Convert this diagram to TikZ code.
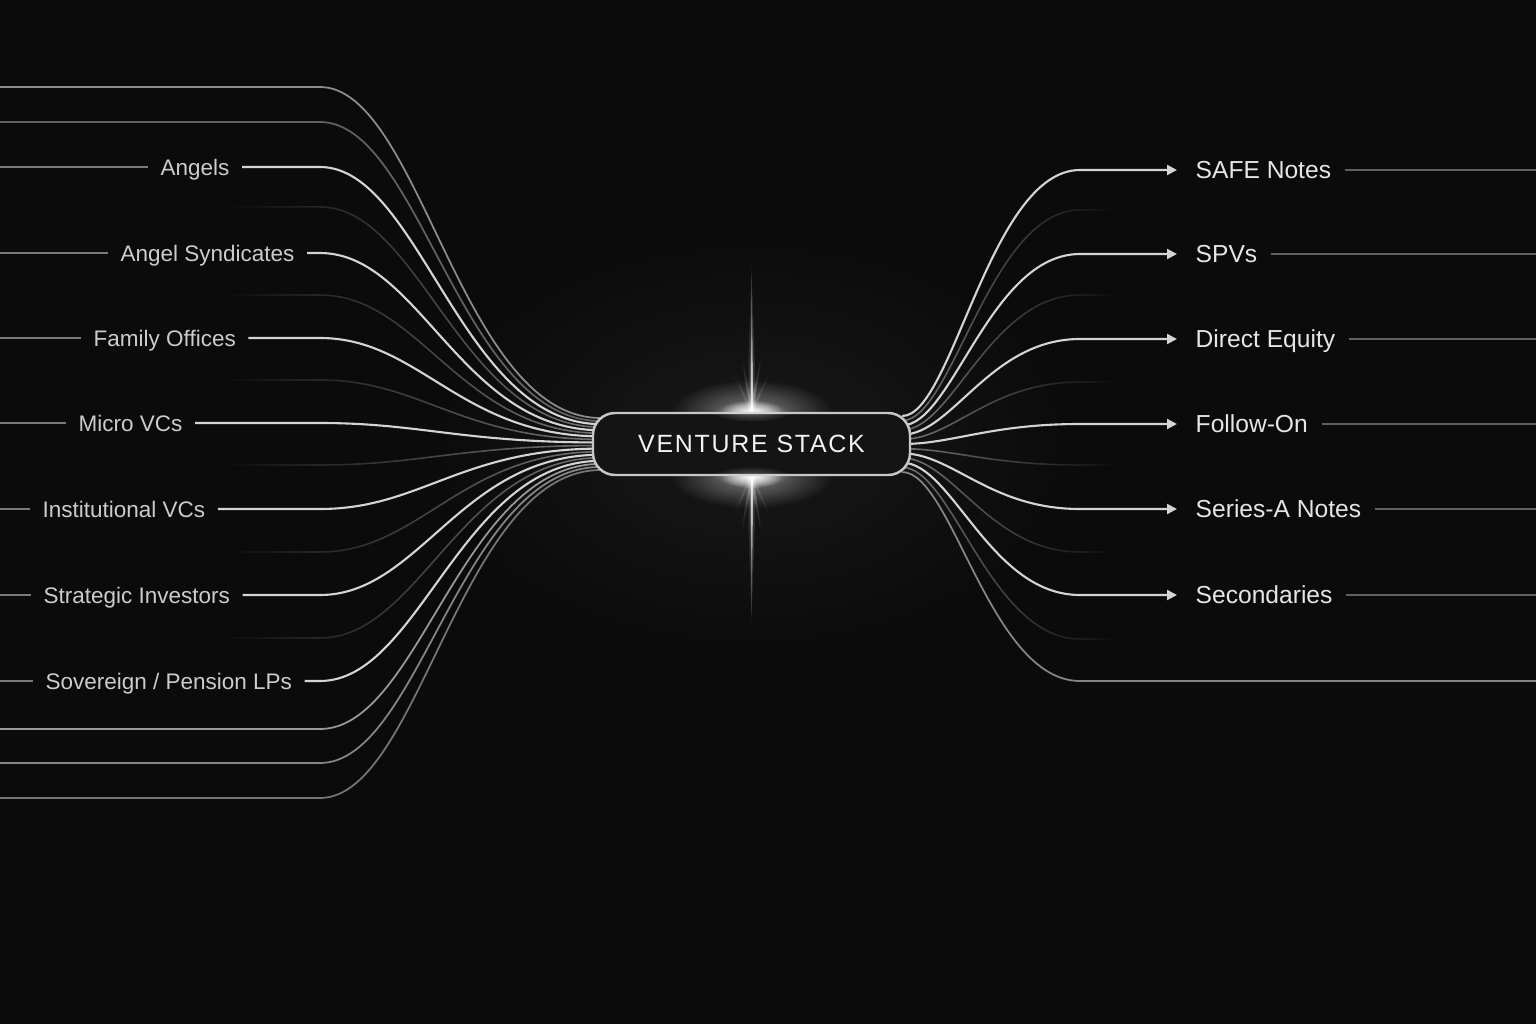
\documentclass[tikz,border=0pt]{standalone}
\usepackage{fontspec}
\setmainfont{Liberation Sans}
\newfontfamily\stackfont[LetterSpace=7]{Liberation Sans}
\usetikzlibrary{arrows.meta,fadings,backgrounds}

\definecolor{bg}{HTML}{0B0B0B}
\definecolor{wire}{HTML}{D4D4D4}

\tikzfading[name=fadein, left color=transparent!100, middle color=transparent!15, right color=transparent!0]
\tikzfading[name=fadeout, left color=transparent!0, middle color=transparent!15, right color=transparent!100]
\tikzfading[name=glow, inner color=transparent!0, outer color=transparent!100]

\tikzset{
  stackbox/.style={draw=white!78!black, line width=0.7pt, fill=white!8!black, rounded corners=0.22cm,
    minimum width=3.17cm, minimum height=0.62cm, inner sep=0pt, text=white!95!black,
    font=\stackfont\fontsize{7.1}{8}\selectfont},
  inlab/.style={anchor=west, inner xsep=0.12cm, inner ysep=0pt, text height=4.6pt, text depth=0pt,
    text=white!80!black, font=\fontsize{6.4}{7}\selectfont},
  outlab/.style={anchor=west, inner xsep=0.13cm, inner ysep=0pt, text height=5pt, text depth=0pt,
    text=white!90!black, font=\fontsize{7}{8}\selectfont},
  feed/.style={wire, line width=0.6pt},
  stub/.style={white!48!black, line width=0.45pt},
  tail/.style={white!38!black, line width=0.45pt},
  ghost/.style={white!45!black, line width=0.45pt},
  payout/.style={wire, line width=0.6pt, -{Triangle[length=0.1cm,width=0.1cm]}, shorten >=0.05cm},
}

\begin{document}
\begin{tikzpicture}
\useasboundingbox (0,0) rectangle (15.36,10.24);
\coordinate (W) at (0,0);
\coordinate (E) at (15.36,0);
\coordinate (bendL) at (3.2,0);
\coordinate (bendR) at (10.8,0);

% hub
\node[stackbox] (stack) at (7.515,5.80) {VENTURE STACK};
\fill[white, opacity=0.3, path fading=glow] (stack.north) ellipse (0.4 and 0.1);
\fill[white, opacity=0.3, path fading=glow] (stack.south) ellipse (0.4 and 0.1);

% sources
\node[inlab] (angels) at (1.48,8.57) {Angels};
\node[inlab] (syndicates) at (1.08,7.71) {Angel Syndicates};
\node[inlab] (family) at (0.81,6.86) {Family Offices};
\node[inlab] (micro) at (0.66,6.01) {Micro VCs};
\node[inlab] (institutional) at (0.30,5.15) {Institutional VCs};
\node[inlab] (strategic) at (0.31,4.29) {Strategic Investors};
\node[inlab] (sovereign) at (0.33,3.43) {Sovereign / Pension LPs};

% instruments
\node[outlab] (safe) at (11.82,8.54) {SAFE Notes};
\node[outlab] (spvs) at (11.82,7.70) {SPVs};
\node[outlab] (direct) at (11.82,6.85) {Direct Equity};
\node[outlab] (followon) at (11.82,6.00) {Follow-On};
\node[outlab] (seriesa) at (11.82,5.15) {Series-A Notes};
\node[outlab] (secondaries) at (11.82,4.29) {Secondaries};

\begin{pgfonlayer}{background}
\fill[bg] (W) rectangle (15.36,10.24);
\fill[white, opacity=0.06, path fading=glow] (stack.center) ellipse (3.4 and 2.2);

\foreach \i in {0,...,17} \path (stack.west) ++(0.09,{0.26-0.0306*\i}) coordinate (in\i);
\foreach \i in {0,...,12} \path (stack.east) ++(-0.09,{0.28-0.0467*\i}) coordinate (out\i);

% faint threads
\foreach \y/\i in {8.17/3, 7.29/5, 6.44/7, 5.59/9, 4.72/11, 3.86/13}{
  \path (W) ++(2.2,\y) coordinate (g\i);
  \draw[ghost, path fading=fadein] (g\i) -- (g\i -| bendL) .. controls +(1,0) and +(-1.4,0) .. (in\i);
}
\foreach \y/\i in {8.14/1, 7.29/3, 6.42/5, 5.59/7, 4.72/9, 3.85/11}{
  \path (bendR) ++(0,\y) coordinate (h\i);
  \draw[ghost, path fading=fadeout] (out\i) .. controls +(0.5,0) and +(-0.9,0) .. (h\i) -- ++(0.35,0);
}

% outer threads
\foreach \y/\i/\c in {9.37/0/55, 9.02/1/38, 2.95/15/60, 2.61/16/52, 2.26/17/46}{
  \path (W) ++(0,\y) coordinate (s\i);
  \draw[white!\c!black, line width=0.5pt] (s\i) -- (s\i -| bendL) .. controls +(1,0) and +(-1.4,0) .. (in\i);
}
\path (bendR) ++(0,3.43) coordinate (h12);
\draw[white!52!black, line width=0.5pt] (out12) .. controls +(0.5,0) and +(-0.9,0) .. (h12) -- (h12 -| E);

% labelled threads
\foreach \n/\i in {angels/2, syndicates/4, family/6, micro/8, institutional/10, strategic/12, sovereign/14}{
  \draw[stub] (\n.west -| W) -- (\n.west);
  \draw[feed] (\n.east) -- (\n.east -| bendL) .. controls +(1,0) and +(-1.4,0) .. (in\i);
}
\foreach \n/\i in {safe/0, spvs/2, direct/4, followon/6, seriesa/8, secondaries/10}{
  \draw[payout] (out\i) .. controls +(0.5,0) and +(-0.9,0) .. (\n.west -| bendR) -- (\n.west);
  \draw[tail] (\n.east) -- (\n.east -| E);
}

% flare
\foreach \p/\s in {north/1, south/-1}{
  \fill[white, opacity=0.45, path fading=glow] (stack.\p) ellipse (0.8 and 0.32);
  \fill[white, path fading=glow] (stack.\p) ellipse (0.32 and 0.12);
  \fill[white, opacity=0.25, path fading=glow] ([xshift=-0.05cm]stack.\p) -- ++(0.05,1.5) -- ++(0.05,-1.5) -- ++(-0.05,-1.5) -- cycle;
  \foreach \a/\l/\o in {90/1.6/0.9, 80/0.8/0.3, 100/0.8/0.3, 65/0.6/0.2, 115/0.6/0.2}
    \fill[white, opacity=\o, path fading=glow] ([shift={(\s*\a:\l)}]stack.\p) -- ([shift={(\s*\a+90:0.018)}]stack.\p)
      -- ([shift={(\s*\a+180:\l)}]stack.\p) -- ([shift={(\s*\a-90:0.018)}]stack.\p) -- cycle;
}
\end{pgfonlayer}
\end{tikzpicture}
\end{document}
